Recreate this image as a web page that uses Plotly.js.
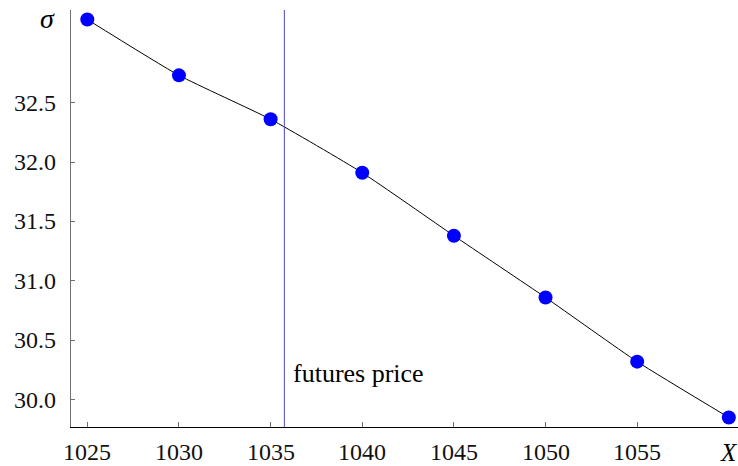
<!DOCTYPE html>
<html>
<head>
<meta charset="utf-8">
<script src="https://cdn.plot.ly/plotly-3.0.1.min.js"></script>
<style>
  html, body { margin: 0; padding: 0; background: #fff; }
  #chart { width: 738px; height: 466px; }
</style>
</head>
<body>
<div id="chart"></div>
<script>
// Implied volatility smile across strike prices
const strikes = [1025, 1030, 1035, 1040, 1045, 1050, 1055, 1060];
const vols = [33.20, 32.73, 32.36, 31.91, 31.38, 30.86, 30.32, 29.85];
const xTicks = [1025, 1030, 1035, 1040, 1045, 1050, 1055];
const yTicks = [30.0, 30.5, 31.0, 31.5, 32.0, 32.5];
const futuresPrice = 1035.75;

const serif = 'Times New Roman, Liberation Serif, serif';
const axisGray = '#707070';
const tickFont = { family: serif, size: 24, color: '#111111' };

const trace = {
  x: strikes,
  y: vols,
  type: 'scatter',
  mode: 'lines+markers',
  line: { color: '#000', width: 1, shape: 'spline', smoothing: 0.5 },
  marker: { color: '#0000ff', size: 14 },
  hoverinfo: 'skip'
};

// Tick labels placed at the tick values in serif type
const xLabels = xTicks.map(v => ({
  x: v, y: 0, xref: 'x', yref: 'paper',
  text: String(v), showarrow: false,
  xanchor: 'center', yanchor: 'middle', yshift: -25,
  font: tickFont
}));
const yLabels = yTicks.map(v => ({
  x: 0, y: v, xref: 'paper', yref: 'y',
  text: v.toFixed(1), showarrow: false,
  xanchor: 'right', yanchor: 'middle', xshift: -13,
  font: tickFont
}));

const layout = {
  width: 738,
  height: 466,
  margin: { l: 71, r: 0, t: 10, b: 39 },
  paper_bgcolor: '#fff',
  plot_bgcolor: '#fff',
  showlegend: false,
  font: { family: serif, size: 24, color: '#000' },
  xaxis: {
    range: [1024.11, 1060.5],
    showgrid: false,
    zeroline: false,
    showline: true,
    linecolor: '#000',
    linewidth: 1,
    ticks: 'inside',
    ticklen: 5,
    tickcolor: axisGray,
    tickmode: 'array',
    tickvals: xTicks,
    showticklabels: false
  },
  yaxis: {
    range: [29.77, 33.28],
    showgrid: false,
    zeroline: false,
    showline: true,
    linecolor: axisGray,
    linewidth: 1,
    ticks: 'inside',
    ticklen: 4,
    tickcolor: axisGray,
    tickmode: 'array',
    tickvals: yTicks,
    showticklabels: false
  },
  shapes: [{
    type: 'line',
    xref: 'x', yref: 'paper',
    x0: futuresPrice, x1: futuresPrice,
    y0: 0, y1: 1,
    line: { color: '#4848c0', width: 1 }
  }],
  annotations: xLabels.concat(yLabels, [
    {
      x: futuresPrice, y: 30.22, xref: 'x', yref: 'y',
      text: 'futures price', showarrow: false,
      xanchor: 'left', yanchor: 'middle', xshift: 7,
      font: { family: serif, size: 26, color: '#000' }
    },
    {
      x: 0, y: 1, xref: 'paper', yref: 'paper',
      text: '<i>σ</i>', showarrow: false,
      xanchor: 'center', yanchor: 'middle', xshift: -24, yshift: -8,
      font: { family: serif, size: 28, color: '#000' }
    },
    {
      x: 1060, y: 0, xref: 'x', yref: 'paper',
      text: '<i>X</i>', showarrow: false,
      xanchor: 'center', yanchor: 'middle', yshift: -25,
      font: { family: serif, size: 25, color: '#000' }
    }
  ])
};

Plotly.newPlot('chart', [trace], layout, { displayModeBar: false, staticPlot: true });
</script>
</body>
</html>
